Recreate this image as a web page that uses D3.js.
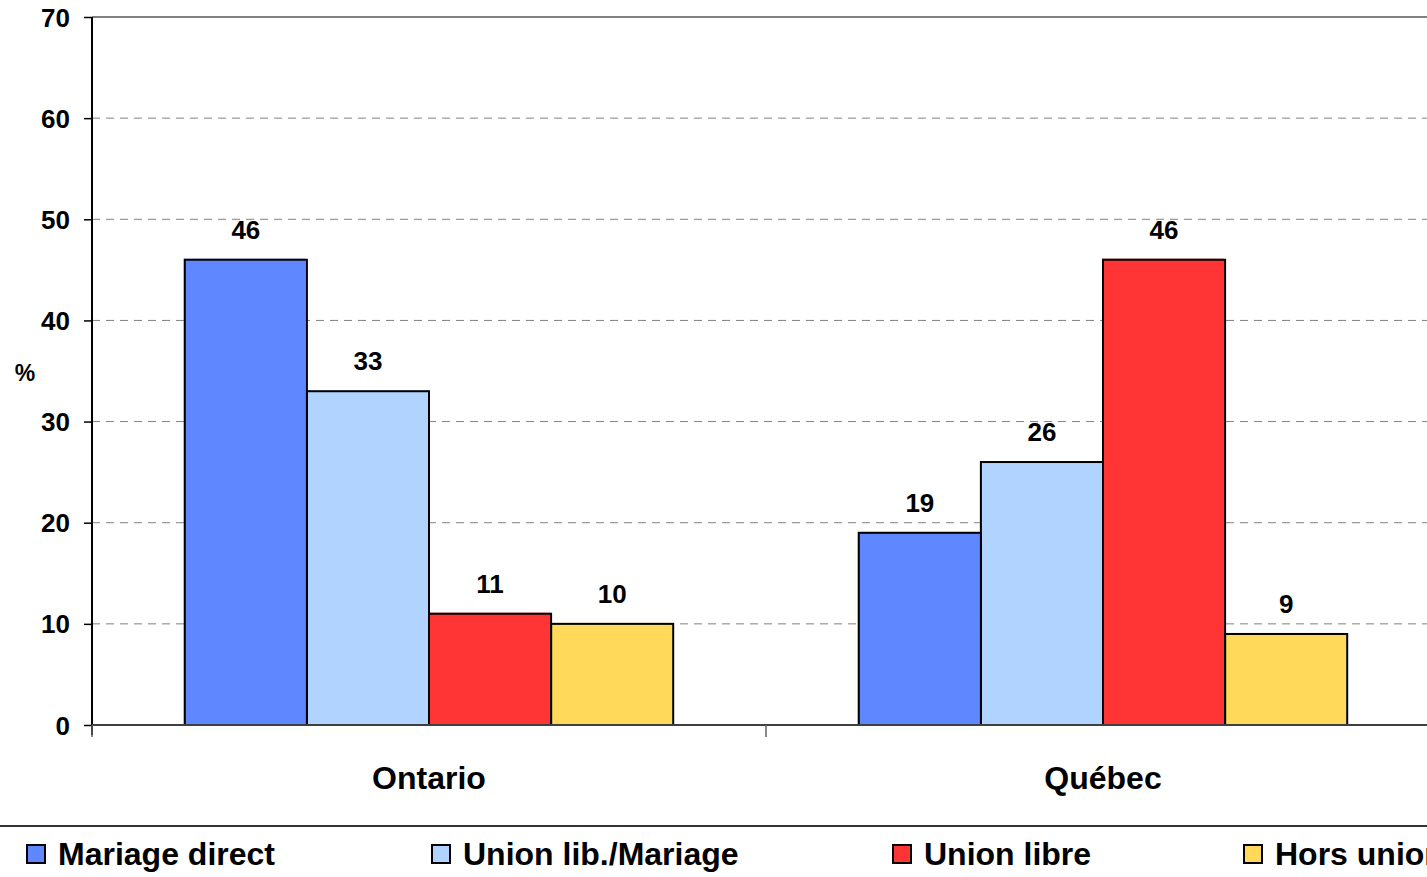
<!DOCTYPE html>
<html>
<head>
<meta charset="utf-8">
<script src="https://cdn.jsdelivr.net/npm/d3@7"></script>
<style>
  body { margin: 0; background: #fff; }
  svg { display: block; font-family: "Liberation Sans", Arial, sans-serif; font-weight: bold; }
</style>
</head>
<body>
<div class="chart"></div>
<script>
const WIDTH = 1427;
const HEIGHT = 877;

const regions = ['Ontario', 'Québec'];
const seriesNames = ['Mariage direct', 'Union lib./Mariage', 'Union libre', 'Hors union'];
const seriesColors = ['#5f87ff', '#b0d4ff', '#ff3535', '#ffda5a'];
const ontarioValues = [46, 33, 11, 10];
const quebecValues = [19, 26, 46, 9];
const yTicks = [0, 10, 20, 30, 40, 50, 60, 70];
const legendX = [27, 432, 893, 1244];

const values = [ontarioValues, quebecValues];

const plotLeft = 92;
const plotRight = 1440;
const plotTop = 17;
const plotBottom = 725;

const svg = d3.select('.chart')
    .append('svg')
    .attr('width', WIDTH)
    .attr('height', HEIGHT);

const x0 = d3.scaleBand().domain(regions).range([plotLeft, plotRight]);
const x1 = d3.scaleBand().domain(seriesNames)
    .range([0, x0.bandwidth()]).paddingOuter(0.76);
const y = d3.scaleLinear().domain([0, 70]).range([plotBottom, plotTop]);

// gridlines
svg.append('g')
    .selectAll('line')
    .data(yTicks.filter((t) => t > 0 && t < 70))
    .enter().append('line')
    .attr('x1', plotLeft).attr('x2', WIDTH)
    .attr('y1', (t) => y(t)).attr('y2', (t) => y(t))
    .attr('stroke', '#808080')
    .attr('stroke-width', 1)
    .attr('stroke-dasharray', '8,6');

// top border
svg.append('line')
    .attr('x1', plotLeft).attr('x2', WIDTH)
    .attr('y1', y(70)).attr('y2', y(70))
    .attr('stroke', '#808080').attr('stroke-width', 2);

// bars
const groups = svg.append('g')
    .selectAll('g')
    .data(regions)
    .enter().append('g')
    .attr('transform', (r) => `translate(${x0(r)},0)`);

groups.each(function(r, ri) {
  const g = d3.select(this);
  const data = seriesNames.map((name, i) => ({name, value: values[ri][i], color: seriesColors[i]}));
  g.selectAll('rect.fill')
      .data(data)
      .enter().append('rect')
      .attr('class', 'fill')
      .attr('x', (d) => x1(d.name) - 1)
      .attr('y', (d) => y(d.value) - 1)
      .attr('width', x1.bandwidth())
      .attr('height', (d) => plotBottom - y(d.value))
      .attr('fill', (d) => d.color);
  g.selectAll('rect.edge')
      .data(data)
      .enter().append('rect')
      .attr('class', 'edge')
      .attr('x', (d) => x1(d.name))
      .attr('y', (d) => y(d.value))
      .attr('width', x1.bandwidth())
      .attr('height', (d) => plotBottom - y(d.value))
      .attr('fill', 'none')
      .attr('stroke', '#000')
      .attr('stroke-width', 2);
  g.selectAll('text')
      .data(data)
      .enter().append('text')
      .attr('x', (d) => x1(d.name) + x1.bandwidth() / 2)
      .attr('y', (d) => y(d.value) - 21)
      .attr('text-anchor', 'middle')
      .attr('font-size', 26)
      .text((d) => d.value);
});

// y axis
const yAxis = svg.append('g')
    .attr('transform', `translate(${plotLeft},0)`)
    .call(d3.axisLeft(y).tickValues(yTicks).tickSize(8).tickPadding(14));
yAxis.select('.domain').attr('stroke', '#000').attr('stroke-width', 2)
    .attr('d', `M0,${plotTop}V${plotBottom + 10}`);
yAxis.selectAll('.tick line').attr('stroke', '#000').attr('stroke-width', 1.5);
yAxis.selectAll('.tick text')
    .attr('font-size', 26).attr('font-family', 'inherit').attr('fill', '#000')
    .attr('dy', '0.35em');

// x axis
const xAxis = svg.append('g')
    .attr('transform', `translate(0,${plotBottom})`)
    .call(d3.axisBottom(x0).tickSize(0).tickPadding(41));
xAxis.select('.domain').attr('stroke', '#404040').attr('stroke-width', 2)
    .attr('d', `M${plotLeft},0H${WIDTH}`);
xAxis.selectAll('.tick text')
    .attr('font-size', 32).attr('font-family', 'inherit').attr('fill', '#000');
svg.append('g')
    .selectAll('line')
    .data([plotLeft, x0(regions[1])])
    .enter().append('line')
    .attr('x1', (d) => d).attr('x2', (d) => d)
    .attr('y1', plotBottom).attr('y2', plotBottom + 12)
    .attr('stroke', '#606060').attr('stroke-width', 1.5);

// y title
svg.append('text')
    .attr('x', 25).attr('y', 381)
    .attr('text-anchor', 'middle')
    .attr('font-size', 23)
    .text('%');

// legend
svg.append('line')
    .attr('x1', 0).attr('x2', WIDTH)
    .attr('y1', 826).attr('y2', 826)
    .attr('stroke', '#333').attr('stroke-width', 2);

const legend = svg.append('g')
    .selectAll('g')
    .data(seriesNames)
    .enter().append('g')
    .attr('transform', (d, i) => `translate(${legendX[i]},845)`);
legend.append('rect')
    .attr('x', -1).attr('y', -1)
    .attr('width', 18).attr('height', 18)
    .attr('fill', (d, i) => seriesColors[i]);
legend.append('rect')
    .attr('width', 18).attr('height', 18)
    .attr('fill', 'none')
    .attr('stroke', '#000').attr('stroke-width', 2);
legend.append('text')
    .attr('x', 31).attr('y', 20)
    .attr('font-size', 32)
    .text((d) => d);
</script>
</body>
</html>
